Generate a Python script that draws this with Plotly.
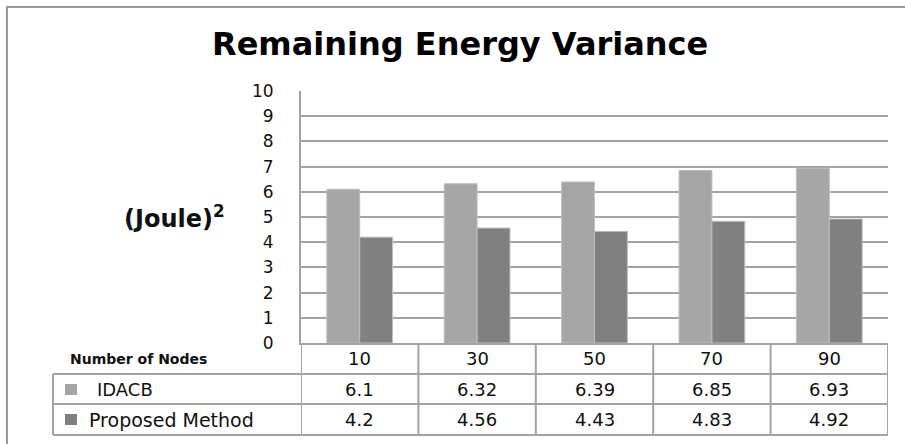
import plotly.graph_objects as go

# ---- data ----
nodes = ["10", "30", "50", "70", "90"]
idacb = [6.1, 6.32, 6.39, 6.85, 6.93]
proposed = [4.2, 4.56, 4.43, 4.83, 4.92]
series_names = ["IDACB", "Proposed Method"]
y_ticks = [0, 1, 2, 3, 4, 5, 6, 7, 8, 9, 10]

# ---- layout constants (pixels) ----
W, H = 905, 444
L, R, T, B = 301, 17, 91, 101
PW, PH = W - L - R, H - T - B
FONT = "DejaVu Sans"
LIGHT, DARK = "#A6A6A6", "#808080"
GRID = "#A3A3A3"


def px(x):
    return (x - L) / PW


def py(y):
    return (T + PH - y) / PH


fig = go.Figure()
fig.add_trace(go.Bar(x=nodes, y=idacb, name=series_names[0], marker_color=LIGHT,
                     marker_line=dict(color="#BEBEBE", width=1)))
fig.add_trace(go.Bar(x=nodes, y=proposed, name=series_names[1], marker_color=DARK,
                     marker_line=dict(color="#BEBEBE", width=1)))

shapes = []
ann = []

# outer frame
shapes.append(dict(type="rect", xref="paper", yref="paper", x0=px(7), x1=px(912),
                   y0=py(452), y1=py(7), line=dict(color="#9A9A9A", width=2)))

# table rows
row_lines = [374, 404, 435]
for yl in row_lines:
    shapes.append(dict(type="line", xref="paper", yref="paper", x0=px(53), x1=px(888),
                       y0=py(yl), y1=py(yl), line=dict(color=GRID, width=2)))
# table left border (legend rows)
shapes.append(dict(type="line", xref="paper", yref="paper", x0=px(53), x1=px(53),
                   y0=py(374), y1=py(435), line=dict(color=GRID, width=2)))
# column boundaries
for i in range(len(nodes) + 1):
    shapes.append(dict(type="line", xref="x", yref="paper", x0=i - 0.5, x1=i - 0.5,
                       y0=py(343), y1=py(435), line=dict(color=GRID, width=2)))

# legend squares
shapes.append(dict(type="rect", xref="paper", yref="paper", x0=px(65), x1=px(77),
                   y0=py(395), y1=py(384), fillcolor=LIGHT, line=dict(width=0)))
shapes.append(dict(type="rect", xref="paper", yref="paper", x0=px(65), x1=px(77),
                   y0=py(425), y1=py(414), fillcolor=DARK, line=dict(width=0)))


def text(x, y, s, size, xref="paper", xanchor="center", bold=False, color="#111"):
    ann.append(dict(x=x, y=y, xref=xref, yref="paper", text=f"<b>{s}</b>" if bold else s,
                    showarrow=False, xanchor=xanchor, yanchor="middle",
                    font=dict(family=FONT, size=size, color=color)))


row_c = [358.5, 389.5, 419.5]
# table cell text (x = category index on the category axis)
for i, n in enumerate(nodes):
    text(i, py(row_c[0]), n, 18, xref="x")
    text(i, py(row_c[1]), f"{idacb[i]:g}", 18, xref="x")
    text(i, py(row_c[2]), f"{proposed[i]:g}", 18, xref="x")

text(px(68), py(row_c[0]), "Number of Nodes", 14, xanchor="left", bold=True)
text(px(95), py(row_c[1]), series_names[0], 18, xanchor="left")
text(px(87), py(row_c[2]), series_names[1], 19, xanchor="left")

# title
text(px(460), py(44), "Remaining Energy Variance", 32, bold=True, color="#000")
# y label
text(px(174), py(217), "(Joule)<sup>2</sup>", 24, bold=True)

fig.update_layout(
    width=W, height=H,
    margin=dict(l=L, r=R, t=T, b=B),
    paper_bgcolor="white", plot_bgcolor="white",
    barmode="group", bargap=0.44, bargroupgap=0,
    showlegend=False,
    shapes=shapes, annotations=ann,
    xaxis=dict(type="category", showticklabels=False, ticks="", showgrid=False,
               showline=True, linecolor=GRID, linewidth=2, range=[-0.5, len(nodes) - 0.5]),
    yaxis=dict(range=[0, 10], tickvals=y_ticks, ticks="", showgrid=True, gridcolor=GRID,
               gridwidth=2, showline=True, linecolor=GRID, linewidth=2, zeroline=False,
               ticklabelstandoff=22, tickfont=dict(family=FONT, size=17, color="#111")),
)

fig.write_html("out.html", config={"displayModeBar": False},
               post_script="document.body.style.margin='0px';")
